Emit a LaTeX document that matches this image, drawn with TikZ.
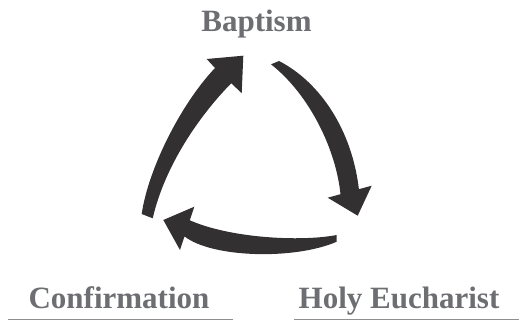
\documentclass[tikz,border=0pt]{standalone}
\usepackage{fontspec}
\setmainfont{Liberation Serif}
\newlength{\du}
\setlength{\du}{1pt}
\definecolor{arrowcolor}{rgb}{0.200000, 0.188000, 0.196000}
\definecolor{textcolor}{rgb}{0.427000, 0.431000, 0.443000}
\definecolor{rulecolor}{rgb}{0.560000, 0.560000, 0.570000}
\tikzset{sacrament/.style={anchor=base, inner sep=0pt, text=textcolor, font=\bfseries\fontsize{31}{31}\selectfont}}
\begin{document}
\begin{tikzpicture}
\pgftransformxscale{1.000000}
\pgftransformyscale{-1.000000}
\useasboundingbox (0\du,0\du) rectangle (519\du,323\du);
% labels
\node[sacrament] (baptism) at (256.500000\du,32.000000\du) {Baptism};
\node[sacrament] (confirmation) at (119.000000\du,308.000000\du) {Confirmation};
\node[sacrament] (eucharist) at (399.000000\du,308.000000\du) {Holy Eucharist};
\pgfsetlinewidth{1.200000\du}
\draw[rulecolor] (8.000000\du,319.500000\du)--(233.000000\du,319.500000\du);
\draw[rulecolor] (294.000000\du,319.500000\du)--(519.000000\du,319.500000\du);
% confirmation -> baptism
\fill[arrowcolor] (141.700000\du,214.000000\du) .. controls (148.000000\du,170.000000\du) and (180.000000\du,105.000000\du) .. (215.000000\du,68.000000\du)
  -- (206.700000\du,59.000000\du) -- (243.300000\du,55.700000\du) -- (241.700000\du,93.300000\du) -- (231.300000\du,83.200000\du)
  .. controls (200.000000\du,115.000000\du) and (165.000000\du,165.000000\du) .. (152.700000\du,218.300000\du) -- cycle;
% baptism -> eucharist
\fill[arrowcolor] (279.000000\du,61.000000\du) .. controls (320.000000\du,82.000000\du) and (352.000000\du,130.000000\du) .. (358.900000\du,189.200000\du)
  -- (371.700000\du,185.700000\du) -- (357.700000\du,215.700000\du) -- (327.700000\du,197.700000\du) -- (340.500000\du,194.200000\du)
  .. controls (336.000000\du,150.000000\du) and (310.000000\du,95.000000\du) .. (271.000000\du,64.300000\du) -- cycle;
% eucharist -> confirmation
\fill[arrowcolor] (336.700000\du,235.000000\du) .. controls (300.000000\du,242.000000\du) and (230.000000\du,238.000000\du) .. (189.800000\du,220.300000\du)
  -- (194.300000\du,206.700000\du) -- (163.300000\du,220.000000\du) -- (180.000000\du,250.000000\du) -- (184.500000\du,236.400000\du)
  .. controls (212.000000\du,258.000000\du) and (295.000000\du,260.000000\du) .. (336.700000\du,241.700000\du) -- cycle;
\end{tikzpicture}
\end{document}
